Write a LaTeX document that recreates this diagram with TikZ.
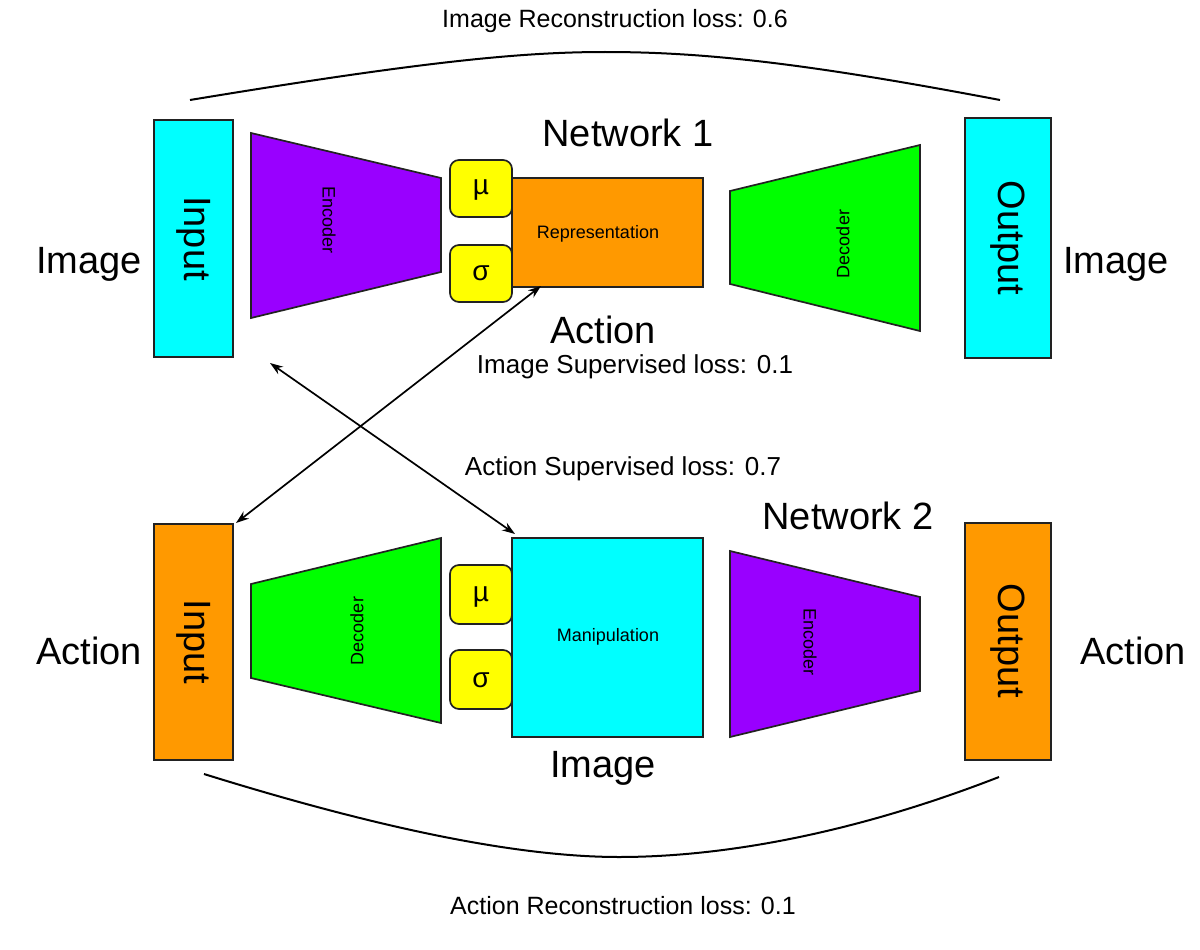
\documentclass[tikz,border=0pt]{standalone}
\usepackage{fontspec}
\setmainfont{Liberation Sans}
\usetikzlibrary{arrows.meta}
\definecolor{cyanbox}{HTML}{00FFFF}
\definecolor{purplebox}{HTML}{9900FF}
\definecolor{orangebox}{HTML}{FF9900}
\definecolor{yellowbox}{HTML}{FFFF00}
\definecolor{greenbox}{HTML}{00FF00}
\definecolor{edge}{HTML}{222222}
\tikzset{
  box/.style={draw=edge, line width=1.7pt},
  ioword/.style={font=\fontsize{38}{40}\selectfont, rotate=-90},
  bigword/.style={font=\fontsize{38}{40}\selectfont},
  lossword/.style={font=\fontsize{25}{27}\selectfont},
  supword/.style={font=\fontsize{26}{28}\selectfont},
  smallword/.style={font=\fontsize{18}{20}\selectfont},
  greek/.style={font=\fontsize{28}{30}\selectfont},
  gbox/.style={box, fill=yellowbox, rounded corners=9pt},
  curve/.style={line width=2pt, draw=black},
  link/.style={line width=1.7pt, {Stealth[length=13pt,width=9pt]}-{Stealth[length=13pt,width=9pt]}}
}
\begin{document}
\begin{tikzpicture}[x=1pt,y=-1pt]
\useasboundingbox (0,0) rectangle (1200,950);

% ---------- Network 1 ----------
\draw[box, fill=cyanbox] (154,120) rectangle (233,357);
\node[ioword] (in1) at (193.5,238.5) {Input};
\draw[box, fill=purplebox] (251,133) -- (441,178) -- (441,272) -- (251,318) -- cycle;
\node[smallword, rotate=-90] (enc1) at (329,220) {Encoder};
\draw[gbox] (450,160) rectangle (512,217);
\node[greek] (mu1) at (481,190) {µ};
\draw[gbox] (450,245) rectangle (512,302);
\node[greek] (sig1) at (481,273) {σ};
\draw[box, fill=orangebox] (512,178) rectangle (703,287);
\node[smallword] (rep) at (598,234) {Representation};
\draw[box, fill=greenbox] (730,191) -- (920,145) -- (920,331) -- (730,284) -- cycle;
\node[smallword, rotate=90] (dec1) at (843,244) {Decoder};
\draw[box, fill=cyanbox] (965,118) rectangle (1051,358);
\node[ioword] (out1) at (1008,238) {Output};

\node[bigword] (limg) at (89,264) {Image};
\node[bigword] (rimg) at (1116,264) {Image};
\node[bigword] (net1) at (628,133) {Network 1};
\node[bigword] (act1) at (603,330) {Action};
\node[supword] (isl) at (635,367) {Image Supervised loss: 0.1};

\node[lossword] (irl) at (615,21) {Image Reconstruction loss: 0.6};
\coordinate (t1) at (190,100);
\coordinate (t2) at (605,52);
\coordinate (t3) at (1000,100);
\draw[curve] (t1) .. controls (420,62) and (520,52) .. (t2) .. controls (700,52) and (800,62) .. (t3);

% ---------- Network 2 ----------
\draw[box, fill=orangebox] (154,524) rectangle (233,760);
\node[ioword] (in2) at (193.5,642) {Input};
\draw[box, fill=greenbox] (251,584) -- (441,538) -- (441,723) -- (251,678) -- cycle;
\node[smallword, rotate=90] (dec2) at (357,631) {Decoder};
\draw[gbox] (450,565) rectangle (512,624);
\node[greek] (mu2) at (481,597) {µ};
\draw[gbox] (450,650) rectangle (512,709);
\node[greek] (sig2) at (481,680) {σ};
\draw[box, fill=cyanbox] (512,538) rectangle (703,737);
\node[smallword] (man) at (608,637) {Manipulation};
\draw[box, fill=purplebox] (730,551) -- (920,597) -- (920,691) -- (730,737) -- cycle;
\node[smallword, rotate=-90] (enc2) at (810,642) {Encoder};
\draw[box, fill=orangebox] (965,523) rectangle (1051,760);
\node[ioword] (out2) at (1008,641) {Output};

\node[bigword] (lact) at (89,651) {Action};
\node[bigword] (ract) at (1133,651) {Action};
\node[bigword] (net2) at (848,516) {Network 2};
\node[bigword] (img2) at (603,768) {Image};
\node[supword] (asl) at (623,469) {Action Supervised loss: 0.7};

\node[lossword] (arl) at (623,906) {Action Reconstruction loss: 0.1};
\coordinate (b1) at (204,774);
\coordinate (b2) at (619,857);
\coordinate (b3) at (999,777);
\draw[curve] (b1) .. controls (400,835) and (530,857) .. (b2) .. controls (720,857) and (850,835) .. (b3);

% ---------- Cross links ----------
\coordinate (a1s) at (270,363);
\coordinate (a1e) at (515,534);
\coordinate (a2s) at (541,286);
\coordinate (a2e) at (236,523);
\draw[link] (a1s) -- (a1e);
\draw[link] (a2s) -- (a2e);
\end{tikzpicture}
\end{document}
